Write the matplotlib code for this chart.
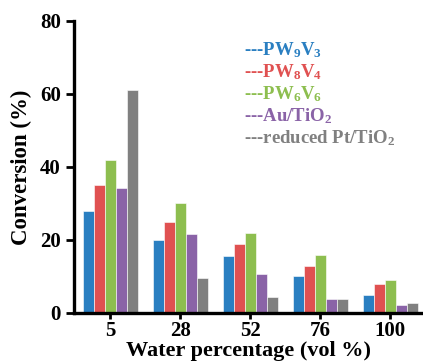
import numpy as np
import matplotlib
matplotlib.use("Agg")
import matplotlib.pyplot as plt

plt.rcParams["font.family"] = "Liberation Serif"
plt.rcParams["font.weight"] = "bold"
plt.rcParams["mathtext.fontset"] = "custom"
plt.rcParams["mathtext.rm"] = "Liberation Serif:bold"
plt.rcParams["mathtext.it"] = "Liberation Serif:bold"
plt.rcParams["mathtext.bf"] = "Liberation Serif:bold"

# data
water_pct = ["5", "28", "52", "76", "100"]
pw9v3 = [28, 20, 15.7, 10, 5]
pw8v4 = [35, 25, 18.8, 13, 8]
pw6v6 = [42, 30, 21.8, 16, 9]
au_tio2 = [34.3, 21.7, 10.6, 3.8, 2.3]
pt_tio2 = [61, 9.6, 4.5, 3.8, 2.6]

series = [pw9v3, pw8v4, pw6v6, au_tio2, pt_tio2]
labels = ["---PW$_9$V$_3$", "---PW$_8$V$_4$", "---PW$_6$V$_6$",
          "---Au/TiO$_2$", "---reduced Pt/TiO$_2$"]
colors = ["#2a7fc1", "#e05151", "#8dbe4f", "#8a63a7", "#808080"]

fig = plt.figure(figsize=(4.23, 3.61), dpi=100)
ax = fig.add_axes([0.175, 0.133, 0.825, 0.809])

x = np.arange(len(water_pct))
w = 0.157
for i, (vals, c) in enumerate(zip(series, colors)):
    ax.bar(x + (i - 2) * w, vals, width=w, color=c, edgecolor="white", linewidth=0.4)

ax.set_xlim(-0.52, 4.47)
ax.set_ylim(0, 80)
ax.set_yticks([0, 20, 40, 60, 80])
ax.set_xticks(x)
ax.set_xticklabels(water_pct)
ax.tick_params(axis="both", labelsize=15, width=2, direction="out")
ax.tick_params(axis="y", length=6)
ax.tick_params(axis="x", length=4, pad=2)
for s in ["top", "right"]:
    ax.spines[s].set_visible(False)
for s in ["left", "bottom"]:
    ax.spines[s].set_linewidth(2.4)

ax.set_ylabel("Conversion (%)", fontsize=16.5, fontweight="bold", labelpad=6)
ax.set_xlabel("Water percentage (vol %)", fontsize=16, fontweight="bold", labelpad=0)

# text legend
for k, (lab, c) in enumerate(zip(labels, colors)):
    fig.text(244 / 423, 1 - (50 + 22 * k) / 361, lab, color=c, fontsize=13.5,
             fontweight="bold", va="center", ha="left")

fig.savefig("out.png", dpi=100)
